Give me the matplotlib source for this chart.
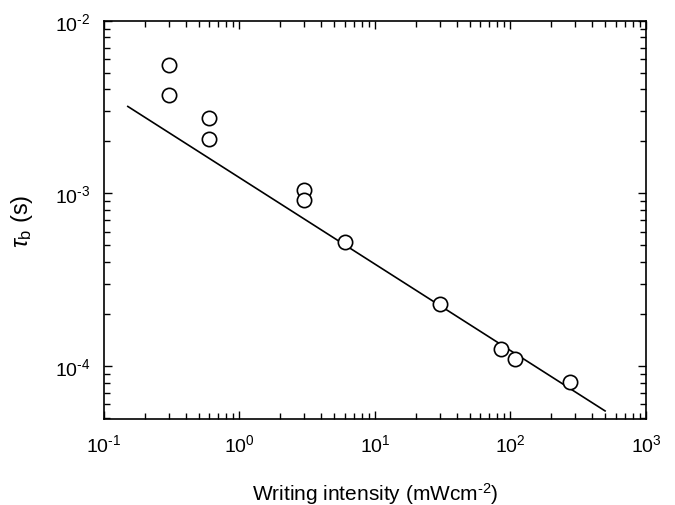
import numpy as np
import matplotlib
matplotlib.use('Agg')
import matplotlib.pyplot as plt
from matplotlib.ticker import FixedLocator, FixedFormatter

plt.rcParams['font.family'] = ['Liberation Sans', 'DejaVu Sans']
plt.rcParams['mathtext.fontset'] = 'custom'
plt.rcParams['mathtext.rm'] = 'Liberation Sans'
plt.rcParams['mathtext.it'] = 'Liberation Sans:italic'
plt.rcParams['axes.unicode_minus'] = False

# measured points (intensity mW/cm^2, tau_b in s)
intensity = [0.3, 0.3, 0.6, 0.6, 3.0, 3.0, 6.0, 30.0, 85.0, 108.0, 276.0]
tau_b = [5.57e-3, 3.73e-3, 2.75e-3, 2.08e-3, 1.04e-3, 9.2e-4, 5.2e-4,
         2.28e-4, 1.25e-4, 1.10e-4, 8.1e-5]

# fit line end points
fit_x = [0.15, 499.0]
fit_y = [3.19e-3, 5.5e-5]

hy = '\u2010'  # plain hyphen as in the original labels
xticks = [0.1, 1, 10, 100, 1000]
xlabels = ['10$^{' + hy + '1}$', '10$^{0}$', '10$^{1}$', '10$^{2}$', '10$^{3}$']
yticks = [1e-4, 1e-3, 1e-2]
ylabels = ['10$^{' + hy + '4}$', '10$^{' + hy + '3}$', '10$^{' + hy + '2}$']

fig = plt.figure(figsize=(6.75, 5.06), dpi=100)
ax = fig.add_axes([0.154, 0.170, 0.803, 0.787])

ax.plot(fit_x, fit_y, color='black', lw=1.2)
ax.plot(intensity, tau_b, 'o', ms=10.3, mfc='white', mec='black', mew=1.2)

ax.set_xscale('log')
ax.set_yscale('log')
ax.set_xlim(0.1, 1000)
ax.set_ylim(4.94e-5, 1e-2)

ax.xaxis.set_major_locator(FixedLocator(xticks))
ax.xaxis.set_major_formatter(FixedFormatter(xlabels))
ax.yaxis.set_major_locator(FixedLocator(yticks))
ax.yaxis.set_major_formatter(FixedFormatter(ylabels))

ax.tick_params(which='both', direction='in', top=True, right=True,
               labelsize=14, pad=10)
ax.tick_params(which='major', length=6, width=1)
ax.tick_params(which='minor', length=4, width=1)
for s in ax.spines.values():
    s.set_linewidth(1.2)

ax.set_xlabel('Writing intensity (mWcm$^{' + hy + '2}$)', fontsize=15, labelpad=18)
ax.set_ylabel(r'$\tau_\mathrm{b}$ (s)', fontsize=17, labelpad=14)

fig.savefig('out.png', dpi=100)
